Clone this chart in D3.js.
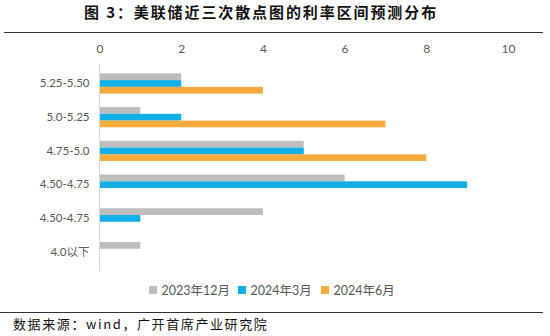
<!DOCTYPE html>
<html>
<head>
<meta charset="utf-8">
<script src="https://cdn.jsdelivr.net/npm/d3@7/dist/d3.min.js"></script>
<style>
  html, body { margin: 0; padding: 0; background: #fff; }
  svg { display: block; }
</style>
</head>
<body>
<svg id="chart" width="550" height="336"></svg>
<script>
// Rate ranges (top to bottom) and dot counts per dot-plot release
const categories = ["5.25-5.50", "5.0-5.25", "4.75-5.0", "4.50-4.75", "4.50-4.75", "4.0以下"];
const seriesNames = ["2023年12月", "2024年3月", "2024年6月"];
const dec2023 = [2, 1, 5, 6, 4, 1];
const mar2024 = [2, 2, 5, 9, 1, 0];
const jun2024 = [4, 7, 8, 0, 0, 0];
const xTicks = [0, 2, 4, 6, 8, 10];
const colors = ["#BDBDBD", "#12AEE6", "#F6AA3D"];

const series = [dec2023, mar2024, jun2024];
const svg = d3.select("#chart");
const latin = "Lato, 'Noto Sans CJK SC', sans-serif";
const cjk = "'Noto Sans CJK SC', sans-serif";

// Title with rule beneath
svg.append("text")
  .attr("x", 261).attr("y", 18)
  .attr("text-anchor", "middle")
  .attr("font-family", cjk)
  .attr("font-weight", "bold")
  .attr("font-size", 15)
  .attr("letter-spacing", 1.9)
  .attr("fill", "#111")
  .text("图 3：美联储近三次散点图的利率区间预测分布");
svg.append("line")
  .attr("x1", 4).attr("x2", 543).attr("y1", 32.5).attr("y2", 32.5)
  .attr("stroke", "#333").attr("stroke-width", 1.2);

// Scales
const x = d3.scaleLinear().domain([0, 10]).range([99.5, 508]);
const y = d3.scaleBand().domain(d3.range(categories.length)).range([66.6, 269]).paddingInner(0.4).paddingOuter(0.2);
const ySub = d3.scaleBand().domain(d3.range(series.length)).range([0, y.bandwidth()]);

// Top value axis (labels only)
const xAxis = d3.axisTop(x).tickValues(xTicks).tickSize(0).tickPadding(0).tickFormat(d3.format("d"));
const gx = svg.append("g").attr("transform", "translate(0,53)").call(xAxis);
gx.select(".domain").remove();
gx.selectAll("text")
  .attr("font-family", latin).attr("font-size", 12).attr("fill", "#595959");

// Category axis
const yAxis = d3.axisLeft(y).tickSize(0).tickPadding(10).tickFormat(i => categories[i]);
const gy = svg.append("g").attr("transform", "translate(99.5,0)").call(yAxis);
gy.select(".domain").remove();
gy.selectAll("text")
  .attr("font-family", latin).attr("font-size", 11.5).attr("fill", "#595959");

// Bars
series.forEach((vals, s) => {
  svg.append("g").selectAll("rect")
    .data(vals)
    .join("rect")
    .attr("x", x(0))
    .attr("y", (d, i) => y(i) + ySub(s))
    .attr("width", d => x(d) - x(0))
    .attr("height", ySub.bandwidth())
    .attr("fill", colors[s]);
});

// Vertical axis line
svg.append("line")
  .attr("x1", 99.5).attr("x2", 99.5).attr("y1", 64).attr("y2", 271)
  .attr("stroke", "#D9D9D9").attr("stroke-width", 1);

// Legend
const legendX = [149, 238, 321];
const lg = svg.append("g");
seriesNames.forEach((name, s) => {
  lg.append("rect")
    .attr("x", legendX[s]).attr("y", 286).attr("width", 8).attr("height", 8)
    .attr("fill", colors[s]);
  lg.append("text")
    .attr("x", legendX[s] + 12.5).attr("y", 294.5)
    .attr("font-family", latin).attr("font-size", 12.5).attr("fill", "#595959")
    .text(name);
});

// Source note with rule above
svg.append("line")
  .attr("x1", 0).attr("x2", 543).attr("y1", 312.5).attr("y2", 312.5)
  .attr("stroke", "#333").attr("stroke-width", 1.2);
svg.append("text")
  .attr("x", 13).attr("y", 329)
  .attr("font-family", cjk)
  .attr("font-size", 13)
  .attr("letter-spacing", 1.6)
  .attr("fill", "#111")
  .text("数据来源：wind，广开首席产业研究院");
</script>
</body>
</html>
